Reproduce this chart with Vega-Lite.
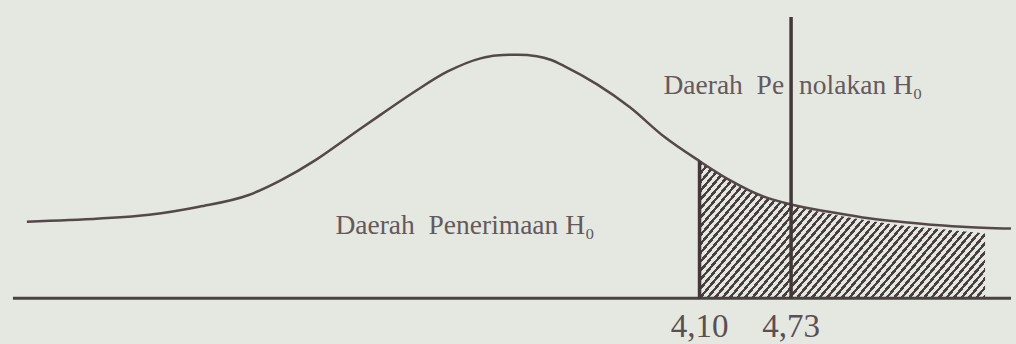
{
  "$schema": "https://vega.github.io/schema/vega-lite/v6.json",
  "width": 1016,
  "height": 344,
  "padding": 0,
  "autosize": {"type": "fit", "contains": "padding"},
  "background": "#e4e8e1",
  "config": {"view": {"stroke": null}, "text": {"font": "'Liberation Serif', 'Times New Roman', 'DejaVu Serif', serif"}},
  "datasets": {
    "curve": [
      {"x": -0.529, "y": 0.314},
      {"x": -0.029, "y": 0.327},
      {"x": 0.313, "y": 0.343},
      {"x": 0.656, "y": 0.376},
      {"x": 0.998, "y": 0.424},
      {"x": 1.224, "y": 0.486},
      {"x": 1.457, "y": 0.567},
      {"x": 1.683, "y": 0.661},
      {"x": 1.909, "y": 0.755},
      {"x": 2.141, "y": 0.849},
      {"x": 2.367, "y": 0.931},
      {"x": 2.593, "y": 0.985},
      {"x": 2.7, "y": 0.997},
      {"x": 2.85, "y": 1.0},
      {"x": 2.98, "y": 0.994},
      {"x": 3.08, "y": 0.978},
      {"x": 3.169, "y": 0.953},
      {"x": 3.395, "y": 0.878},
      {"x": 3.621, "y": 0.784},
      {"x": 3.853, "y": 0.665},
      {"x": 4.1, "y": 0.563},
      {"x": 4.305, "y": 0.486},
      {"x": 4.538, "y": 0.418},
      {"x": 4.73, "y": 0.385},
      {"x": 4.99, "y": 0.355},
      {"x": 5.223, "y": 0.332},
      {"x": 5.449, "y": 0.316},
      {"x": 5.675, "y": 0.303},
      {"x": 5.908, "y": 0.294},
      {"x": 6.243, "y": 0.286}
    ],
    "shade": [
      {"x": 4.1, "y": 0.563},
      {"x": 4.305, "y": 0.486},
      {"x": 4.538, "y": 0.418},
      {"x": 4.73, "y": 0.383},
      {"x": 4.99, "y": 0.347},
      {"x": 5.223, "y": 0.322},
      {"x": 5.449, "y": 0.302},
      {"x": 5.675, "y": 0.288},
      {"x": 5.908, "y": 0.275},
      {"x": 6.065, "y": 0.266}
    ],
    "baseline": [{"x": -0.625, "x2": 6.2434, "y": 0}],
    "verticals": [
      {"x": 4.1, "y": 0, "y2": 0.563},
      {"x": 4.73, "y": 0, "y2": 1.155}
    ],
    "labelsLeft": [
      {"x": 1.594, "y": 0.265, "t": "Daerah\u00a0\u00a0Penerimaan H₀"},
      {"x": 4.785, "y": 0.837, "t": "nolakan H₀"}
    ],
    "labelsRight": [
      {"x": 4.682, "y": 0.837, "t": "Daerah\u00a0\u00a0Pe"}
    ],
    "ticklabels": [
      {"x": 4.1, "y": -0.159, "t": "4,10"},
      {"x": 4.73, "y": -0.159, "t": "4,73"}
    ]
  },
  "encoding": {
    "x": {"field": "x", "type": "quantitative", "axis": null, "scale": {"domain": [-0.714, 6.2434], "nice": false, "zero": false}},
    "y": {"field": "y", "type": "quantitative", "axis": null, "scale": {"domain": [-0.1796, 1.2245], "nice": false, "zero": false}}
  },
  "layer": [
    {
      "data": {"name": "shade"},
      "mark": {
        "type": "area",
        "interpolate": "monotone",
        "fill": {
          "gradient": "linear",
          "x1": 0, "y1": 0, "x2": 1.405, "y2": 0.568,
          "stops": [
            {"offset": 0, "color": "#e4e8e1"},
            {"offset": 0.004, "color": "#e4e8e1"}, {"offset": 0.004, "color": "#4a3f40"}, {"offset": 0.011, "color": "#4a3f40"}, {"offset": 0.011, "color": "#e4e8e1"},
            {"offset": 0.020, "color": "#e4e8e1"}, {"offset": 0.020, "color": "#4a3f40"}, {"offset": 0.027, "color": "#4a3f40"}, {"offset": 0.027, "color": "#e4e8e1"},
            {"offset": 0.036, "color": "#e4e8e1"}, {"offset": 0.036, "color": "#4a3f40"}, {"offset": 0.043, "color": "#4a3f40"}, {"offset": 0.043, "color": "#e4e8e1"},
            {"offset": 0.052, "color": "#e4e8e1"}, {"offset": 0.052, "color": "#4a3f40"}, {"offset": 0.059, "color": "#4a3f40"}, {"offset": 0.059, "color": "#e4e8e1"},
            {"offset": 0.068, "color": "#e4e8e1"}, {"offset": 0.068, "color": "#4a3f40"}, {"offset": 0.075, "color": "#4a3f40"}, {"offset": 0.075, "color": "#e4e8e1"},
            {"offset": 0.084, "color": "#e4e8e1"}, {"offset": 0.084, "color": "#4a3f40"}, {"offset": 0.091, "color": "#4a3f40"}, {"offset": 0.091, "color": "#e4e8e1"},
            {"offset": 0.100, "color": "#e4e8e1"}, {"offset": 0.100, "color": "#4a3f40"}, {"offset": 0.107, "color": "#4a3f40"}, {"offset": 0.107, "color": "#e4e8e1"},
            {"offset": 0.116, "color": "#e4e8e1"}, {"offset": 0.116, "color": "#4a3f40"}, {"offset": 0.123, "color": "#4a3f40"}, {"offset": 0.123, "color": "#e4e8e1"},
            {"offset": 0.132, "color": "#e4e8e1"}, {"offset": 0.132, "color": "#4a3f40"}, {"offset": 0.139, "color": "#4a3f40"}, {"offset": 0.139, "color": "#e4e8e1"},
            {"offset": 0.148, "color": "#e4e8e1"}, {"offset": 0.148, "color": "#4a3f40"}, {"offset": 0.155, "color": "#4a3f40"}, {"offset": 0.155, "color": "#e4e8e1"},
            {"offset": 0.164, "color": "#e4e8e1"}, {"offset": 0.164, "color": "#4a3f40"}, {"offset": 0.171, "color": "#4a3f40"}, {"offset": 0.171, "color": "#e4e8e1"},
            {"offset": 0.180, "color": "#e4e8e1"}, {"offset": 0.180, "color": "#4a3f40"}, {"offset": 0.187, "color": "#4a3f40"}, {"offset": 0.187, "color": "#e4e8e1"},
            {"offset": 0.196, "color": "#e4e8e1"}, {"offset": 0.196, "color": "#4a3f40"}, {"offset": 0.203, "color": "#4a3f40"}, {"offset": 0.203, "color": "#e4e8e1"},
            {"offset": 0.212, "color": "#e4e8e1"}, {"offset": 0.212, "color": "#4a3f40"}, {"offset": 0.219, "color": "#4a3f40"}, {"offset": 0.219, "color": "#e4e8e1"},
            {"offset": 0.228, "color": "#e4e8e1"}, {"offset": 0.228, "color": "#4a3f40"}, {"offset": 0.235, "color": "#4a3f40"}, {"offset": 0.235, "color": "#e4e8e1"},
            {"offset": 0.244, "color": "#e4e8e1"}, {"offset": 0.244, "color": "#4a3f40"}, {"offset": 0.251, "color": "#4a3f40"}, {"offset": 0.251, "color": "#e4e8e1"},
            {"offset": 0.260, "color": "#e4e8e1"}, {"offset": 0.260, "color": "#4a3f40"}, {"offset": 0.267, "color": "#4a3f40"}, {"offset": 0.267, "color": "#e4e8e1"},
            {"offset": 0.276, "color": "#e4e8e1"}, {"offset": 0.276, "color": "#4a3f40"}, {"offset": 0.283, "color": "#4a3f40"}, {"offset": 0.283, "color": "#e4e8e1"},
            {"offset": 0.292, "color": "#e4e8e1"}, {"offset": 0.292, "color": "#4a3f40"}, {"offset": 0.299, "color": "#4a3f40"}, {"offset": 0.299, "color": "#e4e8e1"},
            {"offset": 0.308, "color": "#e4e8e1"}, {"offset": 0.308, "color": "#4a3f40"}, {"offset": 0.315, "color": "#4a3f40"}, {"offset": 0.315, "color": "#e4e8e1"},
            {"offset": 0.324, "color": "#e4e8e1"}, {"offset": 0.324, "color": "#4a3f40"}, {"offset": 0.331, "color": "#4a3f40"}, {"offset": 0.331, "color": "#e4e8e1"},
            {"offset": 0.340, "color": "#e4e8e1"}, {"offset": 0.340, "color": "#4a3f40"}, {"offset": 0.347, "color": "#4a3f40"}, {"offset": 0.347, "color": "#e4e8e1"},
            {"offset": 0.356, "color": "#e4e8e1"}, {"offset": 0.356, "color": "#4a3f40"}, {"offset": 0.363, "color": "#4a3f40"}, {"offset": 0.363, "color": "#e4e8e1"},
            {"offset": 0.372, "color": "#e4e8e1"}, {"offset": 0.372, "color": "#4a3f40"}, {"offset": 0.379, "color": "#4a3f40"}, {"offset": 0.379, "color": "#e4e8e1"},
            {"offset": 0.388, "color": "#e4e8e1"}, {"offset": 0.388, "color": "#4a3f40"}, {"offset": 0.395, "color": "#4a3f40"}, {"offset": 0.395, "color": "#e4e8e1"},
            {"offset": 0.404, "color": "#e4e8e1"}, {"offset": 0.404, "color": "#4a3f40"}, {"offset": 0.411, "color": "#4a3f40"}, {"offset": 0.411, "color": "#e4e8e1"},
            {"offset": 0.420, "color": "#e4e8e1"}, {"offset": 0.420, "color": "#4a3f40"}, {"offset": 0.427, "color": "#4a3f40"}, {"offset": 0.427, "color": "#e4e8e1"},
            {"offset": 0.436, "color": "#e4e8e1"}, {"offset": 0.436, "color": "#4a3f40"}, {"offset": 0.443, "color": "#4a3f40"}, {"offset": 0.443, "color": "#e4e8e1"},
            {"offset": 0.452, "color": "#e4e8e1"}, {"offset": 0.452, "color": "#4a3f40"}, {"offset": 0.459, "color": "#4a3f40"}, {"offset": 0.459, "color": "#e4e8e1"},
            {"offset": 0.468, "color": "#e4e8e1"}, {"offset": 0.468, "color": "#4a3f40"}, {"offset": 0.475, "color": "#4a3f40"}, {"offset": 0.475, "color": "#e4e8e1"},
            {"offset": 0.484, "color": "#e4e8e1"}, {"offset": 0.484, "color": "#4a3f40"}, {"offset": 0.491, "color": "#4a3f40"}, {"offset": 0.491, "color": "#e4e8e1"},
            {"offset": 0.500, "color": "#e4e8e1"}, {"offset": 0.500, "color": "#4a3f40"}, {"offset": 0.507, "color": "#4a3f40"}, {"offset": 0.507, "color": "#e4e8e1"},
            {"offset": 0.516, "color": "#e4e8e1"}, {"offset": 0.516, "color": "#4a3f40"}, {"offset": 0.523, "color": "#4a3f40"}, {"offset": 0.523, "color": "#e4e8e1"},
            {"offset": 0.532, "color": "#e4e8e1"}, {"offset": 0.532, "color": "#4a3f40"}, {"offset": 0.539, "color": "#4a3f40"}, {"offset": 0.539, "color": "#e4e8e1"},
            {"offset": 0.548, "color": "#e4e8e1"}, {"offset": 0.548, "color": "#4a3f40"}, {"offset": 0.555, "color": "#4a3f40"}, {"offset": 0.555, "color": "#e4e8e1"},
            {"offset": 0.564, "color": "#e4e8e1"}, {"offset": 0.564, "color": "#4a3f40"}, {"offset": 0.571, "color": "#4a3f40"}, {"offset": 0.571, "color": "#e4e8e1"},
            {"offset": 0.580, "color": "#e4e8e1"}, {"offset": 0.580, "color": "#4a3f40"}, {"offset": 0.587, "color": "#4a3f40"}, {"offset": 0.587, "color": "#e4e8e1"},
            {"offset": 0.596, "color": "#e4e8e1"}, {"offset": 0.596, "color": "#4a3f40"}, {"offset": 0.603, "color": "#4a3f40"}, {"offset": 0.603, "color": "#e4e8e1"},
            {"offset": 0.612, "color": "#e4e8e1"}, {"offset": 0.612, "color": "#4a3f40"}, {"offset": 0.619, "color": "#4a3f40"}, {"offset": 0.619, "color": "#e4e8e1"},
            {"offset": 0.628, "color": "#e4e8e1"}, {"offset": 0.628, "color": "#4a3f40"}, {"offset": 0.635, "color": "#4a3f40"}, {"offset": 0.635, "color": "#e4e8e1"},
            {"offset": 0.644, "color": "#e4e8e1"}, {"offset": 0.644, "color": "#4a3f40"}, {"offset": 0.651, "color": "#4a3f40"}, {"offset": 0.651, "color": "#e4e8e1"},
            {"offset": 0.660, "color": "#e4e8e1"}, {"offset": 0.660, "color": "#4a3f40"}, {"offset": 0.667, "color": "#4a3f40"}, {"offset": 0.667, "color": "#e4e8e1"},
            {"offset": 0.676, "color": "#e4e8e1"}, {"offset": 0.676, "color": "#4a3f40"}, {"offset": 0.683, "color": "#4a3f40"}, {"offset": 0.683, "color": "#e4e8e1"},
            {"offset": 0.692, "color": "#e4e8e1"}, {"offset": 0.692, "color": "#4a3f40"}, {"offset": 0.699, "color": "#4a3f40"}, {"offset": 0.699, "color": "#e4e8e1"},
            {"offset": 0.708, "color": "#e4e8e1"}, {"offset": 0.708, "color": "#4a3f40"}, {"offset": 0.715, "color": "#4a3f40"}, {"offset": 0.715, "color": "#e4e8e1"},
            {"offset": 0.724, "color": "#e4e8e1"}, {"offset": 0.724, "color": "#4a3f40"}, {"offset": 0.731, "color": "#4a3f40"}, {"offset": 0.731, "color": "#e4e8e1"},
            {"offset": 0.740, "color": "#e4e8e1"}, {"offset": 0.740, "color": "#4a3f40"}, {"offset": 0.747, "color": "#4a3f40"}, {"offset": 0.747, "color": "#e4e8e1"},
            {"offset": 0.756, "color": "#e4e8e1"}, {"offset": 0.756, "color": "#4a3f40"}, {"offset": 0.763, "color": "#4a3f40"}, {"offset": 0.763, "color": "#e4e8e1"},
            {"offset": 0.772, "color": "#e4e8e1"}, {"offset": 0.772, "color": "#4a3f40"}, {"offset": 0.779, "color": "#4a3f40"}, {"offset": 0.779, "color": "#e4e8e1"},
            {"offset": 0.788, "color": "#e4e8e1"}, {"offset": 0.788, "color": "#4a3f40"}, {"offset": 0.795, "color": "#4a3f40"}, {"offset": 0.795, "color": "#e4e8e1"},
            {"offset": 0.804, "color": "#e4e8e1"}, {"offset": 0.804, "color": "#4a3f40"}, {"offset": 0.811, "color": "#4a3f40"}, {"offset": 0.811, "color": "#e4e8e1"},
            {"offset": 0.820, "color": "#e4e8e1"}, {"offset": 0.820, "color": "#4a3f40"}, {"offset": 0.827, "color": "#4a3f40"}, {"offset": 0.827, "color": "#e4e8e1"},
            {"offset": 0.836, "color": "#e4e8e1"}, {"offset": 0.836, "color": "#4a3f40"}, {"offset": 0.843, "color": "#4a3f40"}, {"offset": 0.843, "color": "#e4e8e1"},
            {"offset": 0.852, "color": "#e4e8e1"}, {"offset": 0.852, "color": "#4a3f40"}, {"offset": 0.859, "color": "#4a3f40"}, {"offset": 0.859, "color": "#e4e8e1"},
            {"offset": 0.868, "color": "#e4e8e1"}, {"offset": 0.868, "color": "#4a3f40"}, {"offset": 0.875, "color": "#4a3f40"}, {"offset": 0.875, "color": "#e4e8e1"},
            {"offset": 1, "color": "#e4e8e1"}
          ]
        }
      },
      "encoding": {"y2": {"datum": 0}}
    },
    {
      "data": {"name": "curve"},
      "mark": {"type": "line", "interpolate": "monotone", "color": "#554849", "strokeWidth": 2.5}
    },
    {
      "data": {"name": "baseline"},
      "mark": {"type": "rule", "color": "#4d4243", "strokeWidth": 3},
      "encoding": {"x2": {"field": "x2"}}
    },
    {
      "data": {"name": "verticals"},
      "mark": {"type": "rule", "color": "#433839", "strokeWidth": 3.5},
      "encoding": {"y2": {"field": "y2"}}
    },
    {
      "data": {"name": "labelsLeft"},
      "mark": {"type": "text", "align": "left", "baseline": "alphabetic", "font": "Liberation Serif", "fontSize": 27.5, "color": "#66595b"},
      "encoding": {"text": {"field": "t"}}
    },
    {
      "data": {"name": "labelsRight"},
      "mark": {"type": "text", "align": "right", "baseline": "alphabetic", "font": "Liberation Serif", "fontSize": 27.5, "color": "#66595b"},
      "encoding": {"text": {"field": "t"}}
    },
    {
      "data": {"name": "ticklabels"},
      "mark": {"type": "text", "align": "center", "baseline": "alphabetic", "font": "Liberation Serif", "fontSize": 33, "color": "#5a4f51"},
      "encoding": {"text": {"field": "t"}}
    }
  ]
}
